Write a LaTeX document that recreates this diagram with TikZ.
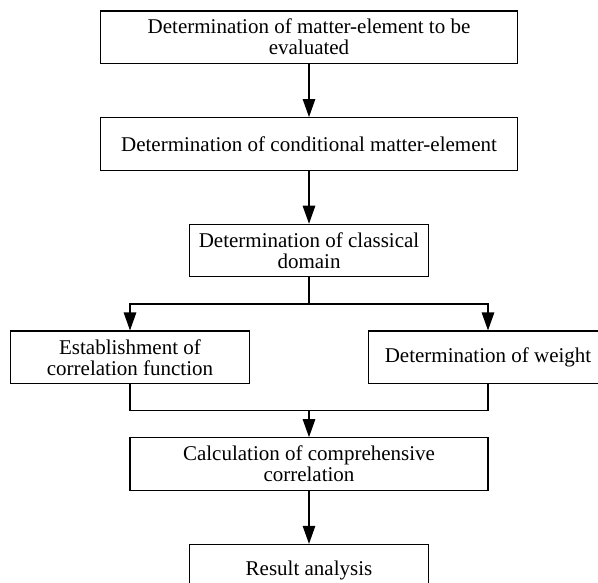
\documentclass[tikz,border=0pt]{standalone}
\usepackage{fontspec}
\setmainfont{Liberation Serif}
\usetikzlibrary{positioning}
\usetikzlibrary{arrows.meta}

\begin{document}
\begin{tikzpicture}
          [x=1pt, y=1pt, line width=1.2pt, node distance=53pt,
           box/.style={draw, rectangle, align=center, inner sep=0pt,
                       minimum height=52.5pt, font=\fontsize{21}{21}\selectfont},
           arr/.style={-{Triangle[length=18pt, width=12.5pt]}}]
          \useasboundingbox (0,0) rectangle (598,-583);
          \clip (0,0) rectangle (598,-583);

          \node (eval) [box, minimum width=417.5pt] at (309,-37.2) {Determination of matter-element to be\\evaluated};
          \node (cond) [box, minimum width=417.5pt, below = of eval] {Determination of conditional matter-element};
          \node (clas) [box, minimum width=239pt, below = of cond] {Determination of classical\\domain};

          \node (corr) [box, minimum width=239.5pt, below = of clas, xshift=-179pt] {Establishment of\\correlation function};
          \node (wght) [box, minimum width=238.5pt, below = of clas, xshift=179pt] {Determination of weight};

          \node (comp) [box, minimum width=358pt, below = of corr, xshift=179pt] {Calculation of comprehensive\\correlation};
          \node (res) [box, minimum width=239pt, below = of comp] {Result analysis};

          \coordinate [below = 26.5pt of clas] (fork);
          \coordinate [above = 26.5pt of comp] (join);

          \draw[arr] (eval) -- (cond);
          \draw[arr] (cond) -- (clas);
          \draw (clas) -- (fork);
          \draw[arr] (fork) -| (corr);
          \draw[arr] (fork) -| (wght);

          \draw (corr.south) |- (join);
          \draw (wght.south) |- (join);
          \draw[arr] (join) -- (comp);
          \draw[arr] (comp) -- (res);

        \end{tikzpicture}
\end{document}
